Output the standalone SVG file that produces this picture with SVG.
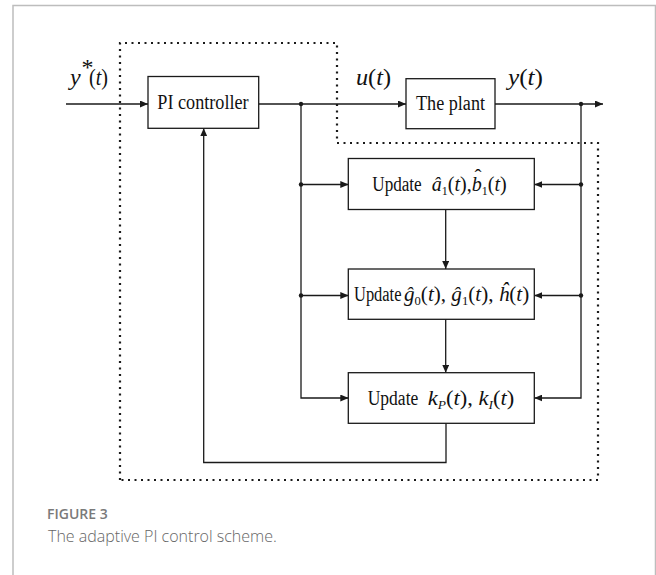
<svg xmlns="http://www.w3.org/2000/svg" width="656" height="575" viewBox="0 0 656 575">
  <style>
    .box { fill: #ffffff; stroke: #1a1a1a; stroke-width: 1.3; }
    .wire { fill: none; stroke: #1a1a1a; stroke-width: 1.3; }
    .dot { fill: #1a1a1a; }
    .lbl { font-family: "Liberation Serif", "Times New Roman", serif; font-size: 20px; fill: #111; }
    .m { font-family: "Liberation Serif", "Times New Roman", serif; font-size: 21px; fill: #111; }
    .sig { font-family: "Liberation Serif", "Times New Roman", serif; font-size: 24px; fill: #111; }
    .i { font-style: italic; }
    .sub { font-size: 12.5px; }
    .cap-h { font-family: "Open Sans", "Liberation Sans", sans-serif; font-size: 14px; font-weight: 600; fill: #7a7a7a; }
    .cap { font-family: "Open Sans", "Liberation Sans", sans-serif; font-size: 16px; font-weight: 300; fill: #666; }
  </style>
  <defs>
    <marker id="arrow" markerUnits="userSpaceOnUse" markerWidth="8" markerHeight="7" refX="8" refY="3.5" orient="auto">
      <path d="M0,0 L8,3.5 L0,7 z" fill="#1a1a1a"/>
    </marker>
  </defs>

  <!-- panel frame -->
  <path d="M13,575 V5.5 H655.5 V575" fill="none" stroke="#bdbdbd" stroke-width="1.5"/>

  <!-- dotted boundary of the adaptive part -->
  <path d="M120,480 V43 H337 V143 H598 V480 Z" fill="none" stroke="#1a1a1a" stroke-width="2.2" stroke-dasharray="2 4.5"/>

  <!-- connectors -->
  <g id="connectors">
    <path class="wire" d="M66,104 H148" marker-end="url(#arrow)"/>
    <path class="wire" d="M258.7,104 H406" marker-end="url(#arrow)"/>
    <path class="wire" d="M495,104 H603" marker-end="url(#arrow)"/>
    <path class="wire" d="M301,104 V398 H348.3" marker-end="url(#arrow)"/>
    <path class="wire" d="M301,184.5 H348.3" marker-end="url(#arrow)"/>
    <path class="wire" d="M301,295.5 H348.3" marker-end="url(#arrow)"/>
    <path class="wire" d="M581,104 V398 H534.3" marker-end="url(#arrow)"/>
    <path class="wire" d="M581,184.5 H534.3" marker-end="url(#arrow)"/>
    <path class="wire" d="M581,295.5 H534.3" marker-end="url(#arrow)"/>
    <path class="wire" d="M445.7,209.3 V269" marker-end="url(#arrow)"/>
    <path class="wire" d="M445.7,319.3 V372.7" marker-end="url(#arrow)"/>
    <path class="wire" d="M446,423.3 V462.5 H203.7 V128.3" marker-end="url(#arrow)"/>
    <circle class="dot" cx="301" cy="104" r="2.2"/>
    <circle class="dot" cx="301" cy="184.5" r="2.2"/>
    <circle class="dot" cx="301" cy="295.5" r="2.2"/>
    <circle class="dot" cx="581" cy="104" r="2.2"/>
    <circle class="dot" cx="581" cy="184.5" r="2.2"/>
    <circle class="dot" cx="581" cy="295.5" r="2.2"/>
  </g>

  <!-- signal labels -->
  <text class="sig" x="70" y="85"><tspan class="i">y</tspan></text>
  <text class="sig" x="81.5" y="75" font-size="12">*</text>
  <text class="sig" x="89" y="85" textLength="19" lengthAdjust="spacingAndGlyphs">(<tspan class="i">t</tspan>)</text>
  <text class="sig" x="356" y="85" textLength="35" lengthAdjust="spacingAndGlyphs"><tspan class="i">u</tspan>(<tspan class="i">t</tspan>)</text>
  <text class="sig" x="508" y="85" textLength="35" lengthAdjust="spacingAndGlyphs"><tspan class="i">y</tspan>(<tspan class="i">t</tspan>)</text>

  <g id="pi-controller">
    <rect class="box" x="148" y="76.5" width="110.7" height="51.8"/>
    <text class="lbl" x="157.3" y="109" textLength="91.3" lengthAdjust="spacingAndGlyphs">PI controller</text>
  </g>

  <g id="plant">
    <rect class="box" x="406" y="78.7" width="89" height="50"/>
    <text class="lbl" x="416" y="110.3" textLength="69" lengthAdjust="spacingAndGlyphs">The plant</text>
  </g>

  <g id="update-ab">
    <rect class="box" x="348.3" y="158.5" width="186" height="51"/>
    <text class="lbl" x="372.3" y="190.7" textLength="49.4" lengthAdjust="spacingAndGlyphs">Update</text>
    <text class="m" x="431.7" y="190.7" textLength="75" lengthAdjust="spacingAndGlyphs"><tspan class="i">â</tspan><tspan class="sub" dy="4">1</tspan><tspan dy="-4">(</tspan><tspan class="i">t</tspan>),<tspan class="i">b</tspan><tspan class="sub" dy="4">1</tspan><tspan dy="-4">(</tspan><tspan class="i">t</tspan>)</text>
    <text class="m" x="474.5" y="184">ˆ</text>
  </g>

  <g id="update-gh">
    <rect class="box" x="348.3" y="269" width="186" height="50.3"/>
    <text class="lbl" x="354" y="301" textLength="47.5" lengthAdjust="spacingAndGlyphs">Update</text>
    <text class="m" x="404" y="301" textLength="125.3" lengthAdjust="spacingAndGlyphs"><tspan class="i">ĝ</tspan><tspan class="sub" dy="4">0</tspan><tspan dy="-4">(</tspan><tspan class="i">t</tspan>), <tspan class="i">ĝ</tspan><tspan class="sub" dy="4">1</tspan><tspan dy="-4">(</tspan><tspan class="i">t</tspan>), <tspan class="i">ĥ</tspan>(<tspan class="i">t</tspan>)</text>
  </g>

  <g id="update-k">
    <rect class="box" x="348.3" y="372.7" width="186" height="50.6"/>
    <text class="lbl" x="367.7" y="404.6" textLength="50.6" lengthAdjust="spacingAndGlyphs">Update</text>
    <text class="m" x="427.7" y="404.6" textLength="86.6" lengthAdjust="spacingAndGlyphs"><tspan class="i">k</tspan><tspan class="sub i" dy="4">P</tspan><tspan dy="-4">(</tspan><tspan class="i">t</tspan>), <tspan class="i">k</tspan><tspan class="sub i" dy="4">I</tspan><tspan dy="-4">(</tspan><tspan class="i">t</tspan>)</text>
  </g>

  <!-- caption -->
  <text class="cap-h" x="47" y="519">FIGURE 3</text>
  <text class="cap" x="48" y="542">The adaptive PI control scheme.</text>
</svg>
